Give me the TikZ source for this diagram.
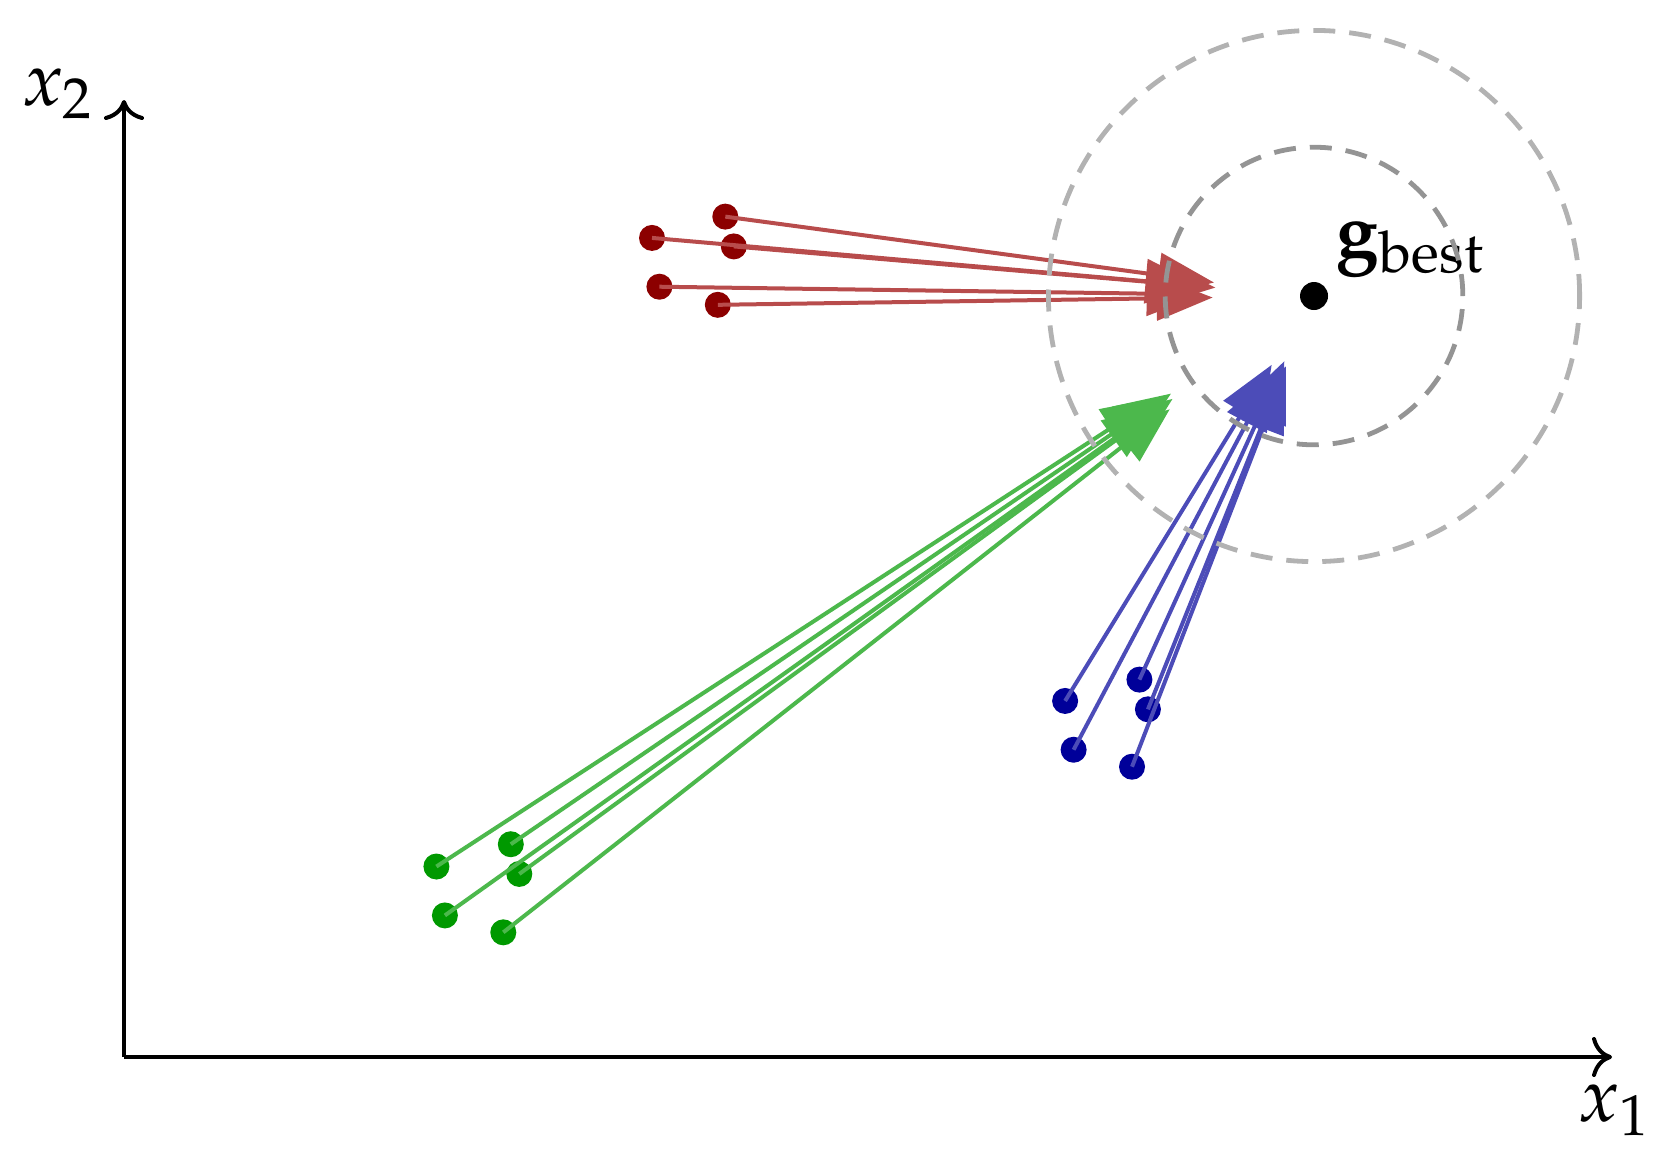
\documentclass[tikz,border=0pt]{standalone}
\usepackage{mathpazo}
\usetikzlibrary{arrows.meta,calc}
\definecolor{rdot}{rgb}{0.55,0,0}
\definecolor{gdot}{rgb}{0,0.6,0}
\definecolor{bdot}{rgb}{0,0,0.6}
\definecolor{rarr}{rgb}{0.72,0.3,0.3}
\definecolor{garr}{rgb}{0.3,0.72,0.3}
\definecolor{barr}{rgb}{0.3,0.3,0.72}
\begin{document}
\begin{tikzpicture}[x=0.25pt,y=-0.25pt,
  axis/.style={line width=1pt,-{Computer Modern Rightarrow[length=5pt,width=10pt]}},
  lbl/.style={inner sep=0pt,anchor=base west,font=\fontsize{19}{23}\selectfont},
  dotnode/.style={circle,inner sep=0pt,minimum size=6.5pt},
  reddot/.style={dotnode,fill=rdot},
  greendot/.style={dotnode,fill=gdot},
  bluedot/.style={dotnode,fill=bdot},
  pso/.style={line width=1pt,-{Triangle[length=14pt,width=11pt]}},
  ring/.style={line width=1.2pt,dash pattern=on 5.5pt off 3.5pt}
]
\useasboundingbox (0,0) rectangle (1665,1160);
% axes
\coordinate (O) at (124,1057);
\coordinate (xend) at (1612,1057);
\coordinate (yend) at (124,100);
\draw[axis] (O) -- (xend);
\draw[axis] (O) -- (yend);
\node[lbl] (x1) at (1577,1121) {$x_1$};
\node[lbl] (x2) at (21,105) {$x_2$};
% gbest
\node[circle,fill=black,inner sep=0pt,minimum size=7pt] (g) at (1314,296) {};
\node[lbl] (gl) at (1335,257) {$\mathbf{g}_{\mathrm{best}}$};
% particles
\node[reddot] (r1) at (725.3,216.6) {};
\node[reddot] (r2) at (652.0,237.9) {};
\node[reddot] (r3) at (733.8,246.4) {};
\node[reddot] (r4) at (659.4,286.7) {};
\node[reddot] (r5) at (717.8,304.8) {};
\node[greendot] (g1) at (436.4,866.5) {};
\node[greendot] (g2) at (510.8,844.2) {};
\node[greendot] (g3) at (444.9,915.4) {};
\node[greendot] (g4) at (519.3,873.9) {};
\node[greendot] (g5) at (503.3,932.3) {};
\node[bluedot] (b1) at (1065.1,700.9) {};
\node[bluedot] (b2) at (1139.4,679.6) {};
\node[bluedot] (b3) at (1073.6,749.7) {};
\node[bluedot] (b4) at (1147.9,709.3) {};
\node[bluedot] (b5) at (1132.0,766.7) {};
\foreach \p in {r1,r2,r3,r4,r5}{
  \coordinate (\p t) at ($(\p.center)!0.83!(g.center)$);
  \draw[pso,color=rarr] (\p.center) -- (\p t);
}
\foreach \p in {g1,g2,g3,g4,g5}{
  \coordinate (\p t) at ($(\p.center)!0.822!(g.center)$);
  \draw[pso,color=garr] (\p.center) -- (\p t);
}
\foreach \p in {b1,b2,b3,b4,b5}{
  \coordinate (\p t) at ($(\p.center)!0.83!(g.center)$);
  \draw[pso,color=barr] (\p.center) -- (\p t);
}
% rings
\draw[ring,color=black!30] (g.center) circle[radius=66.4pt];
\draw[ring,color=black!42] (g.center) circle[radius=37.2pt];
\end{tikzpicture}
\end{document}
